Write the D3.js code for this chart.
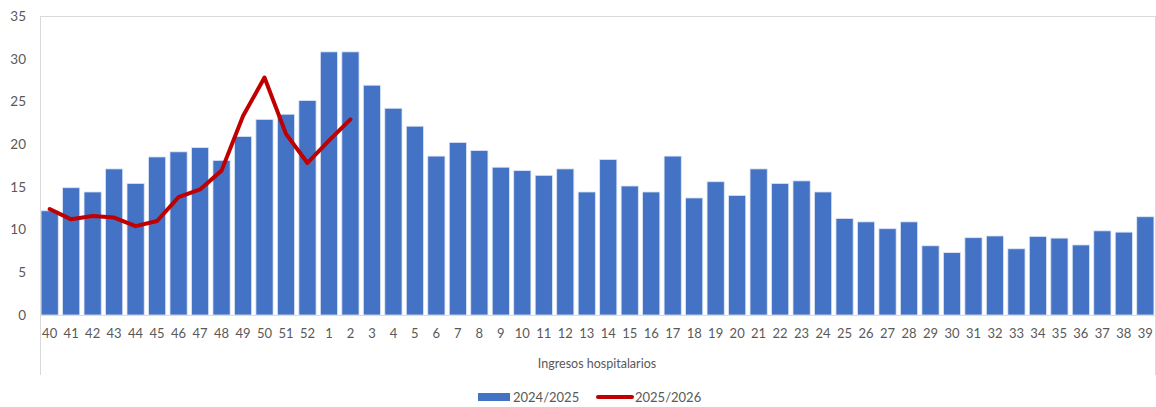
<!DOCTYPE html>
<html><head><meta charset="utf-8">
<script src="https://cdn.jsdelivr.net/npm/d3@7"></script>
<style>
html,body{margin:0;padding:0;background:#fff;}
text{font-family:Lato,"Open Sans",sans-serif;fill:#595959;}
</style></head>
<body><svg id="c" width="1156" height="407"></svg>
<script>
const weeks = ["40","41","42","43","44","45","46","47","48","49","50","51","52","1","2","3","4","5","6","7","8","9","10","11","12","13","14","15","16","17","18","19","20","21","22","23","24","25","26","27","28","29","30","31","32","33","34","35","36","37","38","39"];
const s2024 = [12.2,14.9,14.4,17.1,15.4,18.5,19.1,19.6,18.1,20.9,22.9,23.5,25.1,30.8,30.8,26.9,24.2,22.1,18.6,20.2,19.25,17.3,16.9,16.35,17.1,14.4,18.2,15.1,14.4,18.6,13.7,15.6,14.0,17.1,15.4,15.7,14.4,11.3,10.9,10.1,10.9,8.1,7.3,9.05,9.25,7.75,9.2,9.0,8.2,9.85,9.7,11.5];
const s2025 = [12.4,11.2,11.6,11.4,10.4,11.0,13.8,14.7,16.9,23.3,27.8,21.2,17.8,20.4,22.9];
const yTicks = [0,5,10,15,20,25,30,35];
const seriesNames = ["2024/2025","2025/2026"];

const svg = d3.select("#c");
const L = 40, R = 1155, T = 16, B = 315;
const x = d3.scaleBand().domain(weeks).range([L, R]).paddingInner(0.2).paddingOuter(0.05);
const y = d3.scaleLinear().domain([0,35]).range([B, T]);

// frame
svg.append("line").attr("x1",L).attr("x2",R).attr("y1",T+0.5).attr("y2",T+0.5).attr("stroke","#d9d9d9");
svg.append("line").attr("x1",L+0.5).attr("x2",L+0.5).attr("y1",T).attr("y2",375).attr("stroke","#d9d9d9");
svg.append("line").attr("x1",R+0.5).attr("x2",R+0.5).attr("y1",T).attr("y2",375).attr("stroke","#d9d9d9");
svg.append("line").attr("x1",L).attr("x2",R).attr("y1",B+0.5).attr("y2",B+0.5).attr("stroke","#d9d9d9");

// bars
svg.append("g").selectAll("rect").data(s2024).join("rect")
  .attr("x",(d,i)=>x(weeks[i]))
  .attr("width",x.bandwidth())
  .attr("y",d=>y(d))
  .attr("height",d=>B-y(d))
  .attr("fill","#4472C4")
  .attr("stroke","#dce6f5").attr("stroke-width",0.8);

// line
const line = d3.line().x((d,i)=>x(weeks[i])+x.bandwidth()/2).y(d=>y(d));
svg.append("path").datum(s2025).attr("d",line)
  .attr("fill","none").attr("stroke","#C00000").attr("stroke-width",4)
  .attr("stroke-linejoin","round").attr("stroke-linecap","round");

// y axis labels
const yAxis = d3.axisLeft(y).tickValues(yTicks).tickSize(0).tickPadding(14);
const gy = svg.append("g").attr("transform",`translate(${L},0)`).call(yAxis);
gy.select(".domain").remove();
gy.selectAll("text").style("font-size","13.5px").attr("fill","#595959").attr("font-family","Lato, sans-serif");

// x axis labels
const xAxis = d3.axisBottom(x).tickSize(0).tickPadding(14);
const gx = svg.append("g").attr("transform",`translate(0,${B})`).call(xAxis);
gx.select(".domain").remove();
gx.selectAll("text").style("font-size","13px").attr("fill","#595959").attr("font-family","Lato, sans-serif");

// axis title
svg.append("text").attr("x",597).attr("y",368).attr("text-anchor","middle")
  .style("font-size","12.5px").text("Ingresos hospitalarios");

// legend
const lg = svg.append("g");
lg.append("rect").attr("x",478).attr("y",393).attr("width",32).attr("height",8).attr("fill","#4472C4");
lg.append("text").attr("x",513).attr("y",401.5).style("font-size","13px").text(seriesNames[0]);
lg.append("line").attr("x1",598).attr("x2",632).attr("y1",397).attr("y2",397).attr("stroke","#C00000").attr("stroke-width",4).attr("stroke-linecap","round");
lg.append("text").attr("x",635).attr("y",401.5).style("font-size","13px").text(seriesNames[1]);
</script></body></html>
